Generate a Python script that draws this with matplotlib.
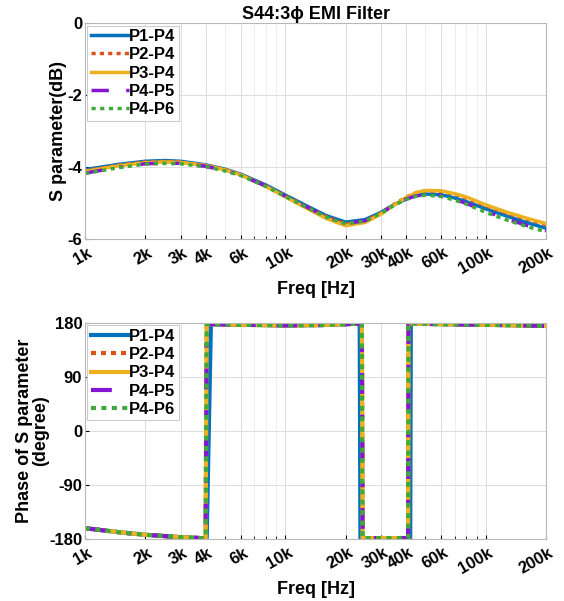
import numpy as np
import matplotlib.pyplot as plt
import matplotlib.transforms as mtransforms
from matplotlib.ticker import FixedLocator, FixedFormatter, NullFormatter

plt.rcParams['font.family'] = ['Liberation Sans', 'DejaVu Sans']
plt.rcParams['font.weight'] = 'bold'
plt.rcParams['axes.unicode_minus'] = False

labels = ['P1-P4', 'P2-P4', 'P3-P4', 'P4-P5', 'P4-P6']
colors = ['#0072BD', '#D95319', '#EDB120', '#8414D6', '#3FAA3A']
styles = ['-', (0, (1.2, 1.2)), '-', (0, (5, 5, 1.2, 5)), (0, (1.2, 1.3))]

# magnitude (dB)
freq = [1000, 1500, 2000, 2500, 3000, 4000, 5000, 6000, 8000, 10000, 13000, 16000,
        20000, 25000, 30000, 35000, 40000, 45000, 50000, 60000, 70000, 80000,
        100000, 130000, 160000, 200000]
mag_p1p4 = [-4.07, -3.92, -3.84, -3.82, -3.84, -3.94, -4.06, -4.20, -4.50, -4.78, -5.10, -5.35,
            -5.53, -5.46, -5.26, -5.04, -4.89, -4.79, -4.75, -4.77, -4.86, -4.96,
            -5.16, -5.38, -5.54, -5.70]
mag_p2p4 = [-4.10, -3.94, -3.86, -3.84, -3.86, -3.95, -4.07, -4.21, -4.52, -4.80, -5.13, -5.38,
            -5.58, -5.50, -5.28, -5.03, -4.84, -4.71, -4.66, -4.68, -4.76, -4.86,
            -5.08, -5.30, -5.45, -5.60]
mag_p3p4 = [-4.12, -3.96, -3.88, -3.86, -3.87, -3.96, -4.08, -4.22, -4.54, -4.83, -5.17, -5.43,
            -5.63, -5.54, -5.31, -5.05, -4.85, -4.71, -4.65, -4.66, -4.74, -4.83,
            -5.05, -5.27, -5.42, -5.57]
mag_p4p5 = [-4.17, -4.00, -3.91, -3.89, -3.90, -3.98, -4.10, -4.23, -4.53, -4.81, -5.13, -5.38,
            -5.57, -5.49, -5.28, -5.05, -4.89, -4.80, -4.77, -4.80, -4.90, -5.01,
            -5.23, -5.46, -5.62, -5.77]
mag_p4p6 = [-4.18, -4.01, -3.92, -3.90, -3.91, -3.99, -4.11, -4.24, -4.54, -4.82, -5.14, -5.39,
            -5.58, -5.50, -5.29, -5.06, -4.90, -4.81, -4.78, -4.82, -4.92, -5.03,
            -5.26, -5.49, -5.65, -5.80]
mags = [mag_p1p4, mag_p2p4, mag_p3p4, mag_p4p5, mag_p4p6]

# phase (degree)
ph_freq = [1000, 1500, 2000, 3000, 3800, 4000, 4050, 4250, 4400, 6000, 10000, 15000,
           20000, 23500, 23700, 24100, 24300, 30000, 40000, 41000, 41200, 42000, 42300,
           60000, 100000, 150000, 200000]
ph_p1 = [-162, -169, -173, -177, -178.5, -178.8, -179, 178, 178, 177, 176, 176.5,
         178, 179, -179, -178.8, -178.8, -178.5, -178.5, -178.5, -178.5, -178.5, 179,
         178, 177, 176, 175]
ph_other = [-162, -169, -173, -177, -178.5, -178.8, 178, 178, 178, 177, 176, 176.5,
            178, 179, 179, 179.2, -179, -178.5, -178.5, -178.5, 179, 179, 179,
            178, 177, 176, 175]
phases = [ph_p1, ph_other, ph_other, ph_other, ph_other]

xticks = [1000, 2000, 3000, 4000, 6000, 10000, 20000, 30000, 40000, 60000, 100000, 200000]
xticklabels = ['1k', '2k', '3k', '4k', '6k', '10k', '20k', '30k', '40k', '60k', '100k', '200k']

fig = plt.figure(figsize=(5.64, 6.01), dpi=100)
ax1 = fig.add_axes([0.1507, 0.6023, 0.8174, 0.3594])
ax2 = fig.add_axes([0.1507, 0.1032, 0.8174, 0.3594])

for m, c, s, l in zip(mags, colors, styles, labels):
    ax1.plot(freq, m, color=c, linestyle=s, linewidth=2.5, label=l)
for p, c, s, l in zip(phases, colors, styles, labels):
    ax2.plot(ph_freq, p, color=c, linestyle=s, linewidth=3, label=l)

shift = mtransforms.ScaledTranslation(6 / 100, 0, fig.dpi_scale_trans)

for ax in (ax1, ax2):
    ax.set_xscale('log')
    ax.set_xlim(1000, 200000)
    ax.xaxis.set_major_locator(FixedLocator(xticks))
    ax.xaxis.set_major_formatter(FixedFormatter(xticklabels))
    ax.xaxis.set_minor_locator(FixedLocator([5000, 7000, 8000, 9000, 50000, 70000, 80000, 90000]))
    ax.xaxis.set_minor_formatter(NullFormatter())
    ax.grid(True, which='major', color='#dcdcdc', linewidth=0.7)
    ax.grid(True, which='minor', color='#ececec', linewidth=0.6)
    ax.tick_params(axis='x', which='major', labelsize=12, direction='in', length=3, pad=9)
    ax.tick_params(axis='x', which='minor', direction='in', length=2)
    ax.tick_params(axis='y', labelsize=12, direction='in', length=3, pad=2)
    for lab in ax.get_xticklabels():
        lab.set_rotation(30)
        lab.set_ha('right')
        lab.set_va('center')
        lab.set_rotation_mode('anchor')
        lab.set_transform(lab.get_transform() + shift)
    for sp in ax.spines.values():
        sp.set_color('#b8b8b8')
    ax.set_xlabel('Freq [Hz]', fontsize=13, fontweight='bold')
    ax.xaxis.set_label_coords(0.5, -0.195)
    leg = ax.legend(loc='upper left', fontsize=12, handlelength=2.3, handletextpad=0.0,
                    borderaxespad=0.15, labelspacing=0.2, borderpad=0.2,
                    fancybox=False, framealpha=1)
    leg.get_frame().set_edgecolor('#cccccc')
    leg.get_frame().set_linewidth(0.8)

ax1.set_ylim(-6, 0)
ax1.set_yticks([-6, -4, -2, 0])
ax1.set_ylabel('S parameter(dB)', fontsize=13, fontweight='bold')
ax1.yaxis.set_label_coords(-0.04, 0.5)
ax1.set_title('S44:3\u03d5 EMI Filter', fontsize=13, fontweight='bold', pad=3)

ax2.set_ylim(-180, 180)
ax2.set_yticks([-180, -90, 0, 90, 180])
ax2.set_ylabel('Phase of S parameter\n(degree)', fontsize=13, fontweight='bold',
               linespacing=0.95)
ax2.yaxis.set_label_coords(-0.078, 0.5)

fig.savefig('out.png', dpi=100)
